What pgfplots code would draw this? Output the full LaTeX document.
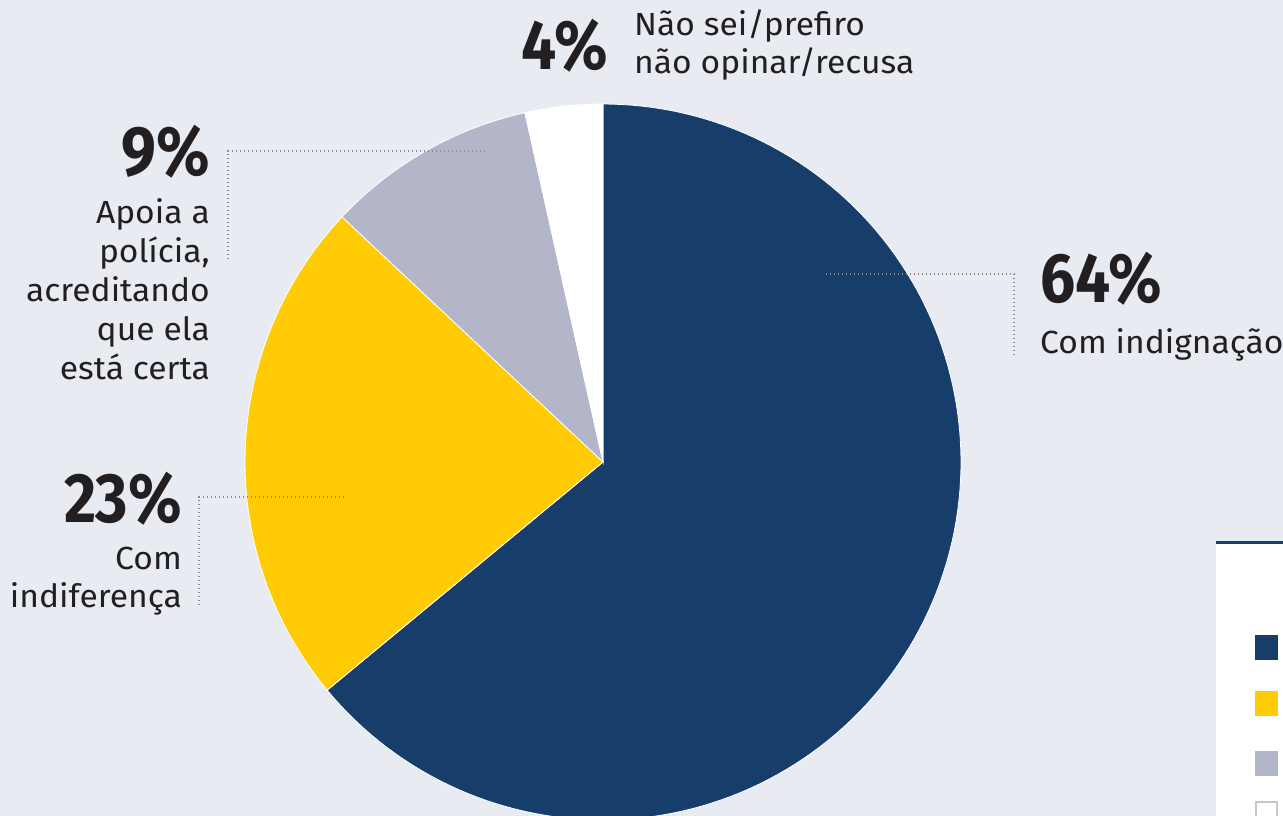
\documentclass[border=0pt]{standalone}
\usepackage{fontspec}
\setmainfont{Fira Sans}
\usepackage{pgfplots}
\pgfplotsset{compat=1.18}
\usepackage{pgfplotstable}
\definecolor{bg}{HTML}{E8EBF2}
\definecolor{navy}{HTML}{173E6A}
\definecolor{gold}{HTML}{FFCB05}
\definecolor{grayb}{HTML}{B3B5C8}
\definecolor{ink}{HTML}{231F20}
\definecolor{dotc}{HTML}{8C8C8C}
% shares (labels show rounded values)
\pgfplotstableread{
value
64
23
9.5
3.5
}\piedata
\newcommand\bodyf{\fontsize{32}{38}\selectfont}
\newcommand\bigf{\fontsize{70}{70}\selectfont\bfseries}
\tikzset{bt/.style={ink, inner sep=0pt, xscale=1.05},
         bn/.style={ink, inner sep=0pt, xscale=0.89}}
\begin{document}
\begin{tikzpicture}
\pgfplotstablegetelem{0}{value}\of\piedata \let\va\pgfplotsretval
\pgfplotstablegetelem{1}{value}\of\piedata \let\vb\pgfplotsretval
\pgfplotstablegetelem{2}{value}\of\piedata \let\vc\pgfplotsretval
\pgfplotstablegetelem{3}{value}\of\piedata \let\vd\pgfplotsretval
\pgfmathsetmacro\aA{90-3.6*\va}
\pgfmathsetmacro\aB{\aA-3.6*\vb}
\pgfmathsetmacro\aC{\aB-3.6*\vc}
\pgfmathsetmacro\aD{\aC-3.6*\vd}
\begin{axis}[scale only axis, width=1283pt, height=816pt,
  xmin=0, xmax=1283, ymin=0, ymax=816, y dir=reverse,
  hide axis, clip=true]
\fill[bg] (axis cs:-5,-5) rectangle (axis cs:1290,821);
% pie
\addplot[fill=navy, draw=white, line width=0.8pt, domain=\aA:90, samples=140]
  ({603+358*cos(x)},{462-358*sin(x)}) -- (axis cs:603,462) -- cycle;
\addplot[fill=gold, draw=white, line width=0.8pt, domain=\aB:\aA, samples=60]
  ({603+358*cos(x)},{462-358*sin(x)}) -- (axis cs:603,462) -- cycle;
\addplot[fill=grayb, draw=white, line width=0.8pt, domain=\aC:\aB, samples=30]
  ({603+358*cos(x)},{462-358*sin(x)}) -- (axis cs:603,462) -- cycle;
\addplot[fill=white, draw=white, line width=0.8pt, domain=\aD:\aC, samples=20]
  ({603+358*cos(x)},{462-358*sin(x)}) -- (axis cs:603,462) -- cycle;
% leaders
\draw[dotc, line width=1.2pt, dash pattern=on 1.2pt off 2.8pt]
  (axis cs:485,151) -- (axis cs:228,151) -- (axis cs:228,262);
\draw[dotc, line width=1.2pt, dash pattern=on 1.2pt off 2.8pt]
  (axis cs:344,497) -- (axis cs:199,497) -- (axis cs:199,608);
\draw[dotc, line width=1.2pt, dash pattern=on 1.2pt off 2.8pt]
  (axis cs:826,274) -- (axis cs:1014,274) -- (axis cs:1014,355);
% labels
\node[bn, anchor=base east] at (axis cs:608,70) {\bigf 4\%};
\node[bt, anchor=base west] at (axis cs:634,36) {\bodyf Não sei/prefiro};
\node[bt, anchor=base west] at (axis cs:634,74) {\bodyf não opinar/recusa};

\node[bn, anchor=base east] at (axis cs:210,175) {\bigf 9\%};
\node[bt, anchor=base east] at (axis cs:210,223) {\bodyf Apoia a};
\node[bt, anchor=base east] at (axis cs:210,262) {\bodyf polícia,};
\node[bt, anchor=base east] at (axis cs:210,301) {\bodyf acreditando};
\node[bt, anchor=base east] at (axis cs:210,340) {\bodyf que ela};
\node[bt, anchor=base east] at (axis cs:210,379) {\bodyf está certa};

\node[bn, anchor=base east] at (axis cs:182,522) {\bigf 23\%};
\node[bt, anchor=base east] at (axis cs:182,569) {\bodyf Com};
\node[bt, anchor=base east] at (axis cs:182,607) {\bodyf indiferença};

\node[bn, anchor=base west] at (axis cs:1040,302) {\bigf 64\%};
\node[bt, anchor=base west] at (axis cs:1040,353) {\bodyf Com indignação};
% legend box (cut off)
\fill[white] (axis cs:1216,541) rectangle (axis cs:1290,821);
\fill[navy] (axis cs:1216,541) rectangle (axis cs:1290,544);
\fill[navy] (axis cs:1255,635) rectangle (axis cs:1278,660);
\fill[gold] (axis cs:1255,691) rectangle (axis cs:1278,716);
\fill[grayb] (axis cs:1255,751) rectangle (axis cs:1278,776);
\draw[black!22, line width=1.5pt, fill=white] (axis cs:1256,802) rectangle (axis cs:1277,830);
\coordinate (TL) at (axis cs:0,0);
\coordinate (BR) at (axis cs:1283,816);
\end{axis}
\pgfresetboundingbox
\useasboundingbox (TL) rectangle (BR);
\end{tikzpicture}
\end{document}
